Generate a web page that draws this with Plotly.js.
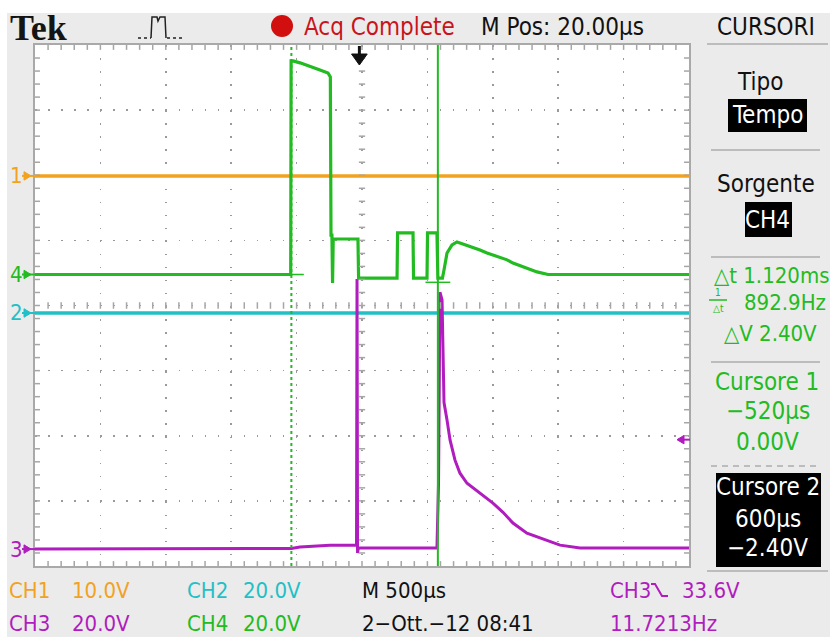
<!DOCTYPE html>
<html><head><meta charset="utf-8">
<script src="https://cdn.plot.ly/plotly-3.0.1.min.js"></script>
<style>html,body{margin:0;padding:0;background:#fff;}#chart{width:839px;height:637px;}</style>
</head><body><div id="chart"></div>
<script>
// ---------------- data (time in µs, voltage in V) ----------------
const ch1Time = [-2480, 2520];
const ch1Volts = [0, 0];
const ch2Time = [-2480, 2520];
const ch2Volts = [0, 0];
const ch3Time = [-2480, -1500, -700, -520, -454, -300, -225, -100, -30, -22, -18, -14, -8, 100, 300, 500, 593, 605, 616, 632, 640, 647, 670, 693, 731, 769, 823, 922, 1021, 1098, 1174, 1281, 1381, 1534, 1687, 2100, 2520];
const ch3Volts = [0, 0, 0, 0.2, 0.6, 1.0, 1.2, 1.2, 1.0, 1.2, 82.9, -1.2, 0.3, 0.3, 0.4, 0.3, 0.3, 20, 78.9, 76.5, 52, 45, 39.6, 33.5, 27.3, 23.3, 20.2, 17.2, 14.1, 11.3, 8.0, 4.9, 3.4, 1.2, 0.3, 0.3, 0.3];
const ch4Time = [-2480, -1800, -1200, -700, -525, -522, -507, -454, -378, -301, -240, -222, -217, -210, -205, -200, -186, -100, -11, -6, 100, 288, 292, 350, 410, 414, 517, 521, 593, 600, 635, 647, 670, 708, 746, 769, 850, 922, 976, 1050, 1129, 1174, 1270, 1358, 1442, 2000, 2520];
const ch4Volts = [0, 0, 0, 0, 0, 65.6, 65.6, 65.0, 63.8, 62.8, 61.9, 60.7, 12.1, 12.1, -2.6, 10.9, 10.9, 10.9, 10.9, -1.1, -1.1, -1.1, 12.8, 12.8, 12.8, -1.1, -1.1, 12.8, 12.8, -1.1, -1.1, 1.4, 6.6, 9.1, 10.0, 9.7, 8.6, 7.5, 6.6, 5.5, 4.5, 3.5, 2.2, 0.8, 0, 0, 0];
const cursorTimes = [-520, 600];
const cursorVolts = [0.00, -2.40];
const triggerLevel = 33.6;          // CH3 falling
const triggerTime = 0;
// channel settings: volts/div and ground position (divisions from centre)
const chNames = ['1', '2', '3', '4'];
const chScale = [10, 20, 20, 20];
const chOffset = [1.99, -0.115, -3.74, 0.476];

// ---------------- styling ----------------
const ORANGE = '#f2a21e', CYAN = '#1fc0c6', MAG = '#b01cbe', GREEN = '#22bb22';
const chColor = [ORANGE, CYAN, MAG, GREEN];
const F = "'Liberation Sans Narrow','DejaVu Sans Condensed','Arial Narrow',sans-serif";
const L = 35, R = 689, TOP = 45, BOT = 566, W = 839, H = 637;
const px = x => (x - L) / (R - L);
const py = y => (BOT - y) / (BOT - TOP);
const X0 = -2480, X1 = 2520;
const rng = i => [(-4 - chOffset[i]) * chScale[i], (4 - chOffset[i]) * chScale[i]];

const traces = [];
const order = [2, 1, 0, 3];
order.forEach(i => {
  const t = [ch1Time, ch2Time, ch3Time, ch4Time][i];
  const v = [ch1Volts, ch2Volts, ch3Volts, ch4Volts][i];
  traces.push({x: t, y: v, yaxis: 'y' + (i + 2), mode: 'lines', hoverinfo: 'skip', showlegend: false,
    line: {color: chColor[i], width: i === 3 ? 3.2 : (i === 2 ? 3 : 3.5)}});
});
// cursors (vertical, on CH4)
cursorTimes.forEach((t, k) => {
  traces.push({x: [t, t], y: rng(3), yaxis: 'y5', mode: 'lines', hoverinfo: 'skip', showlegend: false,
    line: {color: GREEN, width: 2, dash: k === 0 ? 'dot' : 'solid'}});
  traces.push({x: [t - 95, t + 95], y: [cursorVolts[k], cursorVolts[k]], yaxis: 'y5', mode: 'lines', hoverinfo: 'skip', showlegend: false,
    line: {color: GREEN, width: 1.5}});
});

// ---------------- shapes ----------------
const shapes = [];
const GRAY = '#ebebeb', TICK = '#a6a6a6';
// white margins round the gray screen
shapes.push({type: 'rect', xref: 'paper', yref: 'paper', x0: px(0), x1: px(W), y0: py(0), y1: py(13), fillcolor: '#fff', line: {width: 0}, layer: 'below'});
shapes.push({type: 'rect', xref: 'paper', yref: 'paper', x0: px(0), x1: px(7), y0: py(0), y1: py(H), fillcolor: '#fff', line: {width: 0}, layer: 'below'});
shapes.push({type: 'rect', xref: 'paper', yref: 'paper', x0: px(830), x1: px(W), y0: py(0), y1: py(H), fillcolor: '#fff', line: {width: 0}, layer: 'below'});
// minor ticks on borders and centre lines
const dxm = (X1 - X0) / 50, tx = 38, ty = 0.075;
for (let k = 1; k < 50; k++) {
  const t = X0 + k * dxm;
  shapes.push({type: 'line', xref: 'x', yref: 'y', x0: t, x1: t, y0: 4, y1: 4 - ty, line: {color: TICK, width: 1.5}});
  shapes.push({type: 'line', xref: 'x', yref: 'y', x0: t, x1: t, y0: -4, y1: -4 + ty, line: {color: TICK, width: 1.5}});
  shapes.push({type: 'line', xref: 'x', yref: 'y', x0: t, x1: t, y0: -0.05, y1: 0.05, line: {color: TICK, width: 1.5}});
}
for (let k = 1; k < 40; k++) {
  const d = -4 + k * 0.2;
  shapes.push({type: 'line', xref: 'x', yref: 'y', x0: X0, x1: X0 + tx, y0: d, y1: d, line: {color: TICK, width: 1.5}});
  shapes.push({type: 'line', xref: 'x', yref: 'y', x0: X1, x1: X1 - tx, y0: d, y1: d, line: {color: TICK, width: 1.5}});
  shapes.push({type: 'line', xref: 'x', yref: 'y', x0: 20 - 24, x1: 20 + 24, y0: d, y1: d, line: {color: TICK, width: 1.5}});
}
// ground markers on the left
chOffset.forEach((off, i) => {
  shapes.push({type: 'path', xref: 'paper', yref: 'y', path: `M ${px(24)},${off + 0.065} L ${px(31)},${off} L ${px(24)},${off - 0.065} Z`, fillcolor: chColor[i], line: {color: chColor[i], width: 1}});
  shapes.push({type: 'line', xref: 'paper', yref: 'y', x0: px(22), x1: px(36), y0: off, y1: off, line: {color: chColor[i], width: 2}});
});
// trigger level marker (right) on CH3 axis
shapes.push({type: 'path', xref: 'paper', yref: 'y4', path: `M ${px(684)},${triggerLevel + 1.3} L ${px(677)},${triggerLevel} L ${px(684)},${triggerLevel - 1.3} Z`, fillcolor: MAG, line: {color: MAG, width: 1}});
shapes.push({type: 'line', xref: 'paper', yref: 'y4', x0: px(678), x1: px(690), y0: triggerLevel, y1: triggerLevel, line: {color: MAG, width: 2}});
// trigger position arrow (top)
shapes.push({type: 'line', xref: 'x', yref: 'paper', x0: triggerTime, x1: triggerTime, y0: py(46), y1: py(56), line: {color: '#111', width: 3}});
shapes.push({type: 'path', xref: 'x', yref: 'paper', path: `M ${triggerTime - 60},${py(54)} L ${triggerTime + 60},${py(54)} L ${triggerTime},${py(65)} Z`, fillcolor: '#111', line: {color: '#111', width: 1}});
// acquisition icon
shapes.push({type: 'line', xref: 'paper', yref: 'paper', x0: px(138), x1: px(151), y0: py(38), y1: py(38), line: {color: '#222', width: 1.5, dash: 'dot'}});
shapes.push({type: 'line', xref: 'paper', yref: 'paper', x0: px(167), x1: px(183), y0: py(38), y1: py(38), line: {color: '#222', width: 1.5, dash: 'dot'}});
shapes.push({type: 'path', xref: 'paper', yref: 'paper', path: `M ${px(151)},${py(38)} L ${px(152)},${py(17)} L ${px(157)},${py(17)} L ${px(158)},${py(21)} L ${px(160)},${py(17)} L ${px(165)},${py(17)} L ${px(166)},${py(38)}`, line: {color: '#222', width: 1.5}});
// red acquisition dot
shapes.push({type: 'circle', xref: 'paper', yref: 'paper', x0: px(271), x1: px(293), y0: py(37), y1: py(15), fillcolor: '#d20f0f', line: {width: 0}});
// right panel separators
const sep = (y, x0, x1, dash) => shapes.push({type: 'line', xref: 'paper', yref: 'paper', x0: px(x0), x1: px(x1), y0: py(y), y1: py(y), line: {color: '#bcbcbc', width: 2, dash: dash || 'solid'}});
sep(44, 707, 828); sep(150, 711, 820); sep(257, 711, 820); sep(362, 711, 820); sep(466, 711, 820, '6px,5px'); sep(571, 707, 828);
// black boxes
const box = (x0, y0, x1, y1) => shapes.push({type: 'rect', xref: 'paper', yref: 'paper', x0: px(x0), x1: px(x1), y0: py(y1), y1: py(y0), fillcolor: '#000', line: {width: 0}});
box(728, 99, 807, 132); box(745, 202, 792, 237); box(716, 473, 821, 567);
// fraction bar for 1/Δt
shapes.push({type: 'line', xref: 'paper', yref: 'paper', x0: px(709), x1: px(727), y0: py(300), y1: py(300), line: {color: GREEN, width: 1.5}});
// CH3 trigger slope symbol
shapes.push({type: 'path', xref: 'paper', yref: 'paper', path: `M ${px(651)},${py(584)} L ${px(655)},${py(584)} L ${px(662)},${py(596)} L ${px(668)},${py(596)}`, line: {color: MAG, width: 2}});

// ---------------- text ----------------
const ann = [];
const T = (text, x, y, size, color, anchor, fam) => ann.push({text, xref: 'paper', yref: 'paper', x: px(x), y: py(y),
  xanchor: anchor || 'left', yanchor: 'middle', showarrow: false, font: {family: fam || F, size, color}});
T('<b>Tek</b>', 8, 28, 36, '#141414', 'left', "'Liberation Serif','DejaVu Serif',serif");
T('Acq Complete', 302, 27, 24, '#c8141a');
T('M Pos: 20.00µs', 479, 27, 24, '#111');
T('CURSORI', 766, 27, 24, '#111', 'center');
T('Tipo', 760, 82, 24, '#111', 'center');
T('Tempo', 767, 115, 24, '#fff', 'center');
T('Sorgente', 766, 184, 24, '#111', 'center');
T('CH4', 768, 220, 24, '#fff', 'center');
T('△t 1.120ms', 772, 275, 22, GREEN, 'center');
ann.push({text: '1', xref: 'paper', yref: 'paper', x: px(718), y: py(300), xanchor: 'center', yanchor: 'bottom', showarrow: false, font: {family: F, size: 10, color: GREEN}});
ann.push({text: '△t', xref: 'paper', yref: 'paper', x: px(718), y: py(301), xanchor: 'center', yanchor: 'top', showarrow: false, font: {family: F, size: 10, color: GREEN}});
T('892.9Hz', 742, 302, 22, GREEN, 'left');
T('△V 2.40V', 770, 333, 22, GREEN, 'center');
T('Cursore 1', 767, 382, 24, GREEN, 'center');
T('−520µs', 768, 411, 24, GREEN, 'center');
T('0.00V', 768, 442, 24, GREEN, 'center');
T('Cursore 2', 768, 487, 24, '#fff', 'center');
T('600µs', 768, 519, 24, '#fff', 'center');
T('−2.40V', 768, 548, 24, '#fff', 'center');
// bottom status rows
T('CH1', 7, 590, 22, ORANGE); T('10.0V', 70, 590, 22, ORANGE);
T('CH2', 185, 590, 22, CYAN); T('20.0V', 241, 590, 22, CYAN);
T('M 500µs', 360, 590, 22, '#111');
T('CH3', 608, 590, 22, MAG); T('33.6V', 680, 590, 22, MAG);
T('CH3', 7, 623, 22, MAG); T('20.0V', 70, 623, 22, MAG);
T('CH4', 185, 623, 22, GREEN); T('20.0V', 241, 623, 22, GREEN);
T('2−Ott.−12 08:41', 360, 623, 22, '#111');
T('11.7213Hz', 608, 623, 22, MAG);
// channel ground labels
chOffset.forEach((off, i) => ann.push({text: chNames[i], xref: 'paper', yref: 'y', x: px(8), y: off, xanchor: 'left', yanchor: 'middle',
  showarrow: false, font: {family: F, size: 22, color: chColor[i]}}));

// ---------------- layout ----------------
const gridAxis = {showticklabels: false, ticks: '', showgrid: true, gridcolor: '#9a9a9a', gridwidth: 1.5, griddash: '1.5px,11.55px',
  zeroline: false, showline: true, linecolor: '#a9a9a9', linewidth: 2, mirror: true, fixedrange: true, tickmode: 'linear'};
const layout = {
  width: W, height: H, margin: {l: L, r: W - R, t: TOP, b: H - BOT, pad: 0},
  paper_bgcolor: GRAY, plot_bgcolor: '#fff', showlegend: false,
  xaxis: Object.assign({}, gridAxis, {range: [X0, X1], tick0: X0, dtick: 500}),
  yaxis: Object.assign({}, gridAxis, {range: [-4, 4], tick0: -4, dtick: 1}),
  shapes, annotations: ann
};
[0, 1, 2, 3].forEach(i => { layout['yaxis' + (i + 2)] = {overlaying: 'y', range: rng(i), visible: false, fixedrange: true}; });
Plotly.newPlot('chart', traces, layout, {staticPlot: true, displayModeBar: false});
</script></body></html>
